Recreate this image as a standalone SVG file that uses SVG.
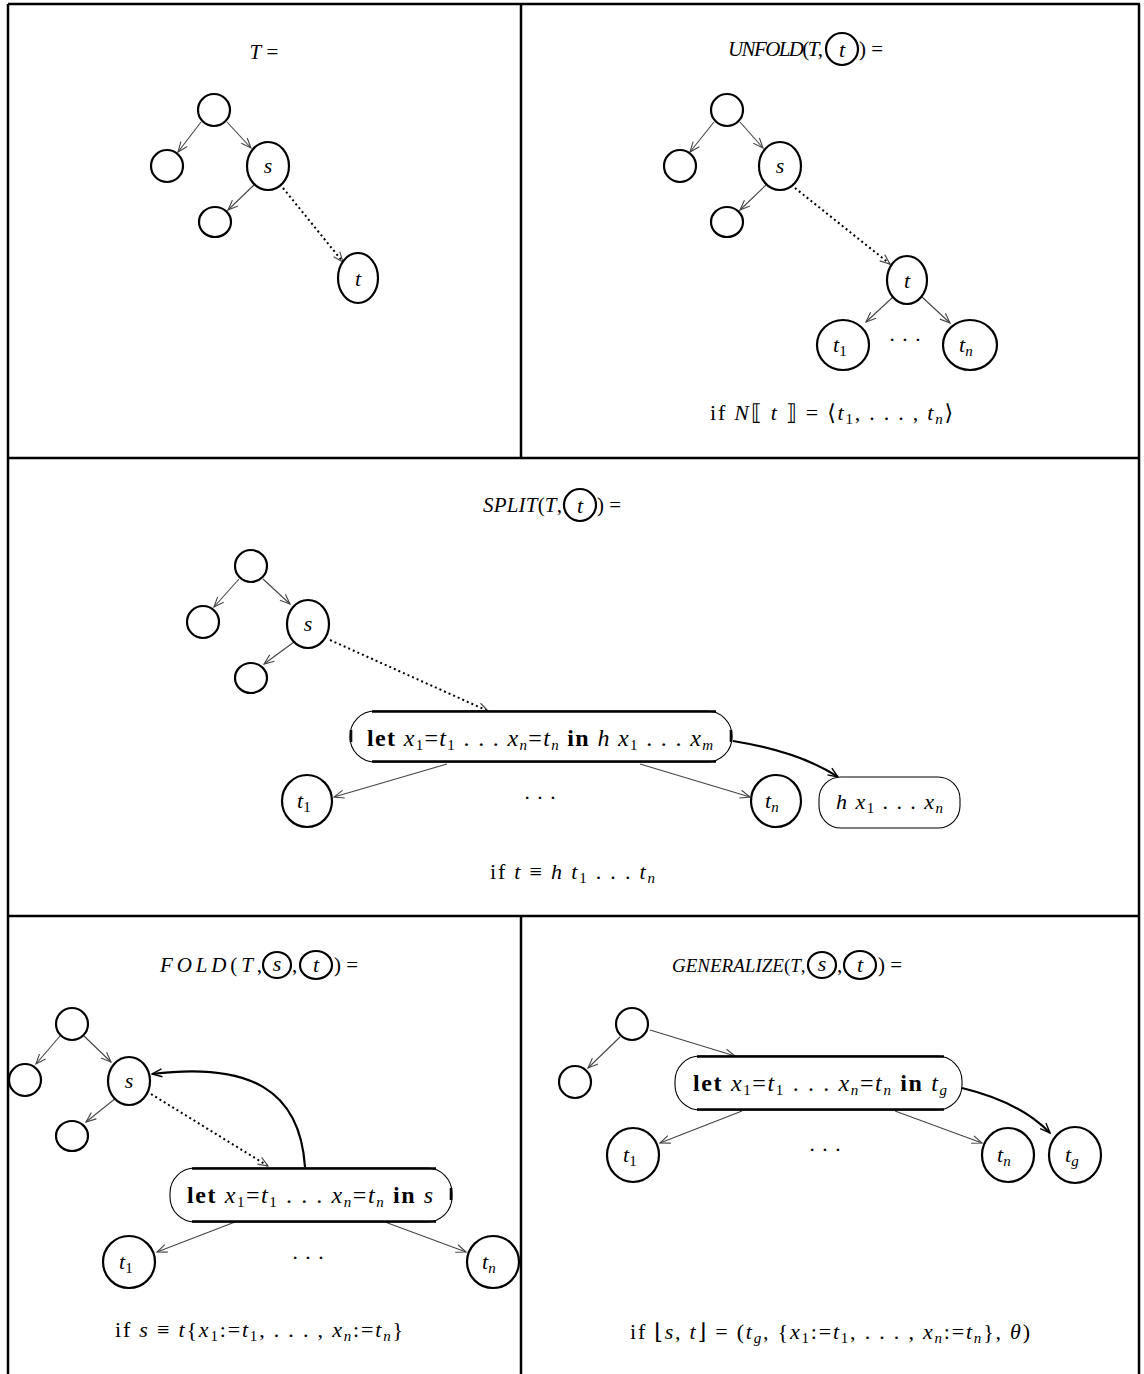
<svg xmlns="http://www.w3.org/2000/svg" width="1144" height="1374" viewBox="0 0 1144 1374">
<defs>
<style>
.f{fill:none;stroke:#000;stroke-width:2.5}
.n{fill:#fff;stroke:#000;stroke-width:2.2}
.e{fill:none;stroke:#444;stroke-width:1.1;marker-end:url(#a)}
.d{fill:none;stroke:#000;stroke-width:2;stroke-dasharray:2 3;marker-end:url(#a)}
.c{fill:none;stroke:#000;stroke-width:2.2;marker-end:url(#ab)}
.bx{fill:#fff;stroke:#000;stroke-width:1.1}
.bl{fill:none;stroke:#000;stroke-width:2.6}
text{font-family:"Liberation Serif","Times New Roman","DejaVu Serif",serif;font-size:22px;fill:#000}
.t{font-size:21px}
.g{font-size:19px}
.k{font-size:24px}
.i{font-style:italic}
.b{font-weight:bold}
.s{font-size:15px}
.lab{text-anchor:middle;font-style:italic}
</style>
<marker id="a" viewBox="0 0 12 10" refX="11" refY="5" markerWidth="12" markerHeight="10" orient="auto" markerUnits="userSpaceOnUse"><path d="M1,1 L11,5 L1,9" fill="none" stroke="#444" stroke-width="1.1"/></marker>
<marker id="ab" viewBox="0 0 12 10" refX="11" refY="5" markerWidth="12" markerHeight="10" orient="auto" markerUnits="userSpaceOnUse"><path d="M1,1 L11,5 L1,9" fill="none" stroke="#000" stroke-width="1.4"/></marker>
</defs>
<rect width="1144" height="1374" fill="#fff"/>

<!-- panel frame -->
<g id="frame" class="f">
<path d="M8,4 H1140 M8,4 V1374 M1139,4 V1374 M8,458 H1140 M8,916 H1140 M521,4 V458 M521,916 V1374"/>
</g>

<!-- titles and conditions -->
<g id="titles">
<text class="t" x="264" y="59" text-anchor="middle"><tspan class="i">T</tspan> =</text>

<text class="t" x="728" y="56" textLength="95"><tspan class="i">UNFOLD</tspan>(<tspan class="i">T</tspan>,</text>
<ellipse class="n" cx="842" cy="49" rx="16" ry="16"/>
<text class="lab" x="842" y="57">t</text>
<text class="t" x="859" y="56">) =</text>

<text class="t" x="483" y="512" textLength="79"><tspan class="i">SPLIT</tspan>(<tspan class="i">T</tspan>,</text>
<ellipse class="n" cx="580" cy="505" rx="16" ry="16"/>
<text class="lab" x="580" y="513">t</text>
<text class="t" x="597" y="512">) =</text>

<text class="t" x="160" y="972" textLength="102"><tspan class="i">FOLD</tspan>(<tspan class="i">T</tspan>,</text>
<ellipse class="n" cx="277" cy="965" rx="14" ry="13"/>
<text class="lab" x="277" y="971">s</text>
<text class="t" x="292" y="972">,</text>
<ellipse class="n" cx="316" cy="965" rx="16" ry="14"/>
<text class="lab" x="316" y="972">t</text>
<text class="t" x="334" y="972">) =</text>

<text class="g" x="672" y="972"><tspan class="i">GENERALIZE</tspan>(<tspan class="i">T</tspan>,</text>
<ellipse class="n" cx="822" cy="965" rx="14" ry="13"/>
<text class="lab" x="822" y="971">s</text>
<text class="t" x="837" y="972">,</text>
<ellipse class="n" cx="860" cy="965" rx="16" ry="14"/>
<text class="lab" x="860" y="972">t</text>
<text class="t" x="878" y="972">) =</text>

<text x="710" y="420" textLength="243">if <tspan class="i">N</tspan>⟦ <tspan class="i">t</tspan> ⟧ = ⟨<tspan class="i">t</tspan><tspan class="s" dy="4">1</tspan><tspan dy="-4">, . . . , </tspan><tspan class="i">t</tspan><tspan class="s i" dy="4">n</tspan><tspan dy="-4">⟩</tspan></text>

<text x="490" y="879" textLength="165">if <tspan class="i">t</tspan> ≡ <tspan class="i">h t</tspan><tspan class="s" dy="4">1</tspan><tspan dy="-4"> . . . </tspan><tspan class="i">t</tspan><tspan class="s i" dy="4">n</tspan></text>

<text x="115" y="1337" textLength="288">if <tspan class="i">s</tspan> ≡ <tspan class="i">t</tspan>{<tspan class="i">x</tspan><tspan class="s" dy="4">1</tspan><tspan dy="-4">:=</tspan><tspan class="i">t</tspan><tspan class="s" dy="4">1</tspan><tspan dy="-4">, . . . , </tspan><tspan class="i">x</tspan><tspan class="s i" dy="4">n</tspan><tspan dy="-4">:=</tspan><tspan class="i">t</tspan><tspan class="s i" dy="4">n</tspan><tspan dy="-4">}</tspan></text>

<text x="630" y="1339" textLength="400">if ⌊<tspan class="i">s</tspan>, <tspan class="i">t</tspan>⌋ = (<tspan class="i">t</tspan><tspan class="s i" dy="4">g</tspan><tspan dy="-4">, {</tspan><tspan class="i">x</tspan><tspan class="s" dy="4">1</tspan><tspan dy="-4">:=</tspan><tspan class="i">t</tspan><tspan class="s" dy="4">1</tspan><tspan dy="-4">, . . . , </tspan><tspan class="i">x</tspan><tspan class="s i" dy="4">n</tspan><tspan dy="-4">:=</tspan><tspan class="i">t</tspan><tspan class="s i" dy="4">n</tspan><tspan dy="-4">}, </tspan><tspan class="i">θ</tspan>)</text>

<text x="905" y="347" text-anchor="middle">· · ·</text>
<text x="540" y="805" text-anchor="middle">· · ·</text>
<text x="308" y="1265" text-anchor="middle">· · ·</text>
<text x="825" y="1157" text-anchor="middle">· · ·</text>
</g>

<!-- connectors -->
<g id="connectors">
<path class="e" d="M201,122 L178,152"/>
<path class="e" d="M227,122 L251,148"/>
<path class="e" d="M255,184 L228,210"/>
<path class="d" d="M283,188 L343,262"/>

<path class="e" d="M714,122 L690,152"/>
<path class="e" d="M740,122 L763,148"/>
<path class="e" d="M767,184 L740,210"/>
<path class="d" d="M795,188 L890,264"/>
<path class="e" d="M893,297 L866,322"/>
<path class="e" d="M922,297 L950,323"/>

<path class="e" d="M239,579 L214,607"/>
<path class="e" d="M263,579 L290,604"/>
<path class="e" d="M294,642 L264,664"/>
<path class="d" d="M330,640 L488,711"/>
<path class="e" d="M447,764 L334,797"/>
<path class="e" d="M640,764 L750,797"/>
<path class="c" d="M733,741 Q800,752 838,777"/>

<path class="e" d="M60,1036 L36,1064"/>
<path class="e" d="M84,1036 L111,1062"/>
<path class="e" d="M116,1098 L86,1122"/>
<path class="d" d="M151,1094 L268,1166"/>
<path class="c" d="M305,1167 C300,1090 250,1062 152,1074"/>
<path class="e" d="M235,1222 L157,1252"/>
<path class="e" d="M385,1222 L466,1252"/>

<path class="e" d="M620,1037 L588,1068"/>
<path class="e" d="M650,1030 L735,1056"/>
<path class="e" d="M742,1111 L660,1143"/>
<path class="e" d="M895,1111 L982,1143"/>
<path class="c" d="M962,1088 Q1020,1102 1050,1133"/>
</g>

<!-- T -->
<g id="tl-root"><ellipse class="n" cx="214" cy="110" rx="16" ry="16"/></g>
<g id="tl-left"><ellipse class="n" cx="167" cy="166" rx="16" ry="16"/></g>
<g id="tl-s"><ellipse class="n" cx="268" cy="166" rx="21" ry="24"/><text class="lab" x="268" y="173">s</text></g>
<g id="tl-low"><ellipse class="n" cx="215" cy="222" rx="16" ry="15"/></g>
<g id="tl-t"><ellipse class="n" cx="358" cy="278" rx="20" ry="25"/><text class="lab" x="358" y="286">t</text></g>

<!-- UNFOLD -->
<g id="ur-root"><ellipse class="n" cx="727" cy="110" rx="16" ry="16"/></g>
<g id="ur-left"><ellipse class="n" cx="680" cy="166" rx="16" ry="16"/></g>
<g id="ur-s"><ellipse class="n" cx="780" cy="166" rx="21" ry="24"/><text class="lab" x="780" y="173">s</text></g>
<g id="ur-low"><ellipse class="n" cx="727" cy="222" rx="16" ry="15"/></g>
<g id="ur-t"><ellipse class="n" cx="907" cy="280" rx="20" ry="24"/><text class="lab" x="907" y="288">t</text></g>
<g id="ur-t1"><ellipse class="n" cx="843" cy="345" rx="26" ry="25"/><text x="833" y="352"><tspan class="i">t</tspan><tspan class="s" dy="4">1</tspan></text></g>
<g id="ur-tn"><ellipse class="n" cx="970" cy="345" rx="27" ry="25"/><text x="959" y="352"><tspan class="i">t</tspan><tspan class="s i" dy="4">n</tspan></text></g>

<!-- SPLIT -->
<g id="sp-root"><ellipse class="n" cx="251" cy="566" rx="16" ry="16"/></g>
<g id="sp-left"><ellipse class="n" cx="203" cy="622" rx="16" ry="16"/></g>
<g id="sp-s"><ellipse class="n" cx="308" cy="624" rx="21" ry="24"/><text class="lab" x="308" y="631">s</text></g>
<g id="sp-low"><ellipse class="n" cx="251" cy="678" rx="16" ry="15"/></g>
<g id="sp-let">
<rect class="bx" x="350" y="711" width="382" height="51" rx="25"/>
<path class="bl" d="M372,711.5 H716 M372,761.5 H716 M351,730 V742 M731,730 V742"/>
<text class="k" x="367" y="746" textLength="346"><tspan class="b">let</tspan> <tspan class="i">x</tspan><tspan class="s" dy="4">1</tspan><tspan dy="-4">=</tspan><tspan class="i">t</tspan><tspan class="s" dy="4">1</tspan><tspan dy="-4"> . . . </tspan><tspan class="i">x</tspan><tspan class="s i" dy="4">n</tspan><tspan dy="-4">=</tspan><tspan class="i">t</tspan><tspan class="s i" dy="4">n</tspan><tspan dy="-4"> </tspan><tspan class="b">in</tspan> <tspan class="i">h x</tspan><tspan class="s" dy="4">1</tspan><tspan dy="-4"> . . . </tspan><tspan class="i">x</tspan><tspan class="s i" dy="4">m</tspan></text>
</g>
<g id="sp-t1"><ellipse class="n" cx="307" cy="801" rx="25" ry="26"/><text x="297" y="808"><tspan class="i">t</tspan><tspan class="s" dy="4">1</tspan></text></g>
<g id="sp-tn"><ellipse class="n" cx="776" cy="801" rx="25" ry="26"/><text x="765" y="808"><tspan class="i">t</tspan><tspan class="s i" dy="4">n</tspan></text></g>
<g id="sp-h">
<rect class="bx" x="819" y="777" width="141" height="51" rx="22"/>
<text x="836" y="809" textLength="107"><tspan class="i">h x</tspan><tspan class="s" dy="4">1</tspan><tspan dy="-4"> . . . </tspan><tspan class="i">x</tspan><tspan class="s i" dy="4">n</tspan></text>
</g>

<!-- FOLD -->
<g id="fo-root"><ellipse class="n" cx="72" cy="1024" rx="16" ry="16"/></g>
<g id="fo-left"><ellipse class="n" cx="25" cy="1080" rx="16" ry="16"/></g>
<g id="fo-s"><ellipse class="n" cx="129" cy="1081" rx="21" ry="24"/><text class="lab" x="129" y="1088">s</text></g>
<g id="fo-low"><ellipse class="n" cx="72" cy="1136" rx="16" ry="15"/></g>
<g id="fo-let">
<rect class="bx" x="170" y="1168" width="282" height="54" rx="25"/>
<path class="bl" d="M192,1168.5 H436 M192,1221.5 H436 M451,1188 V1200"/>
<text class="k" x="187" y="1203" textLength="246"><tspan class="b">let</tspan> <tspan class="i">x</tspan><tspan class="s" dy="4">1</tspan><tspan dy="-4">=</tspan><tspan class="i">t</tspan><tspan class="s" dy="4">1</tspan><tspan dy="-4"> . . . </tspan><tspan class="i">x</tspan><tspan class="s i" dy="4">n</tspan><tspan dy="-4">=</tspan><tspan class="i">t</tspan><tspan class="s i" dy="4">n</tspan><tspan dy="-4"> </tspan><tspan class="b">in</tspan> <tspan class="i">s</tspan></text>
</g>
<g id="fo-t1"><ellipse class="n" cx="129" cy="1262" rx="26" ry="26"/><text x="119" y="1269"><tspan class="i">t</tspan><tspan class="s" dy="4">1</tspan></text></g>
<g id="fo-tn"><ellipse class="n" cx="493" cy="1262" rx="26" ry="26"/><text x="482" y="1269"><tspan class="i">t</tspan><tspan class="s i" dy="4">n</tspan></text></g>

<!-- GENERALIZE -->
<g id="ge-root"><ellipse class="n" cx="632" cy="1024" rx="16" ry="16"/></g>
<g id="ge-left"><ellipse class="n" cx="575" cy="1082" rx="16" ry="16"/></g>
<g id="ge-let">
<rect class="bx" x="675" y="1056" width="287" height="54" rx="25"/>
<path class="bl" d="M697,1056.5 H944 M697,1109.5 H944"/>
<text class="k" x="693" y="1091" textLength="254"><tspan class="b">let</tspan> <tspan class="i">x</tspan><tspan class="s" dy="4">1</tspan><tspan dy="-4">=</tspan><tspan class="i">t</tspan><tspan class="s" dy="4">1</tspan><tspan dy="-4"> . . . </tspan><tspan class="i">x</tspan><tspan class="s i" dy="4">n</tspan><tspan dy="-4">=</tspan><tspan class="i">t</tspan><tspan class="s i" dy="4">n</tspan><tspan dy="-4"> </tspan><tspan class="b">in</tspan> <tspan class="i">t</tspan><tspan class="s i" dy="4">g</tspan></text>
</g>
<g id="ge-t1"><ellipse class="n" cx="633" cy="1155" rx="26" ry="27"/><text x="623" y="1162"><tspan class="i">t</tspan><tspan class="s" dy="4">1</tspan></text></g>
<g id="ge-tn"><ellipse class="n" cx="1008" cy="1155" rx="26" ry="27"/><text x="997" y="1162"><tspan class="i">t</tspan><tspan class="s i" dy="4">n</tspan></text></g>
<g id="ge-tg"><ellipse class="n" cx="1075" cy="1155" rx="26" ry="28"/><text x="1065" y="1162"><tspan class="i">t</tspan><tspan class="s i" dy="4">g</tspan></text></g>
</svg>
